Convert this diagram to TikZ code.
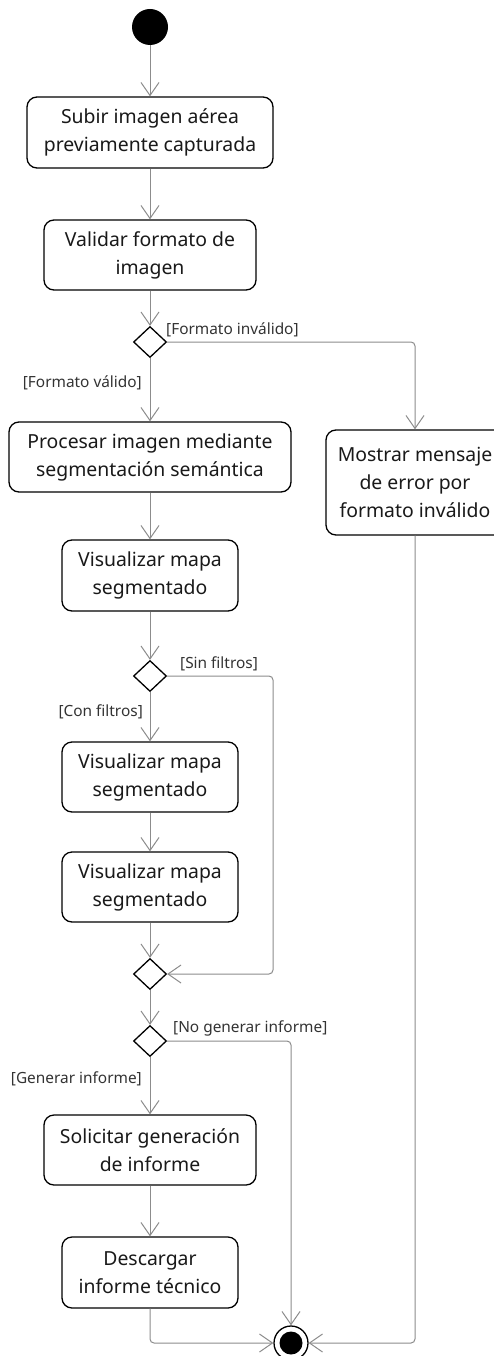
\documentclass[tikz,border=0pt]{standalone}
\usepackage{fontspec}
\setmainfont{Noto Sans}
\usetikzlibrary{shapes.geometric,arrows.meta}
\definecolor{linegray}{HTML}{8C8C8C}
\definecolor{labelgray}{HTML}{333333}
\tikzset{
  act/.style={draw=black,line width=1.3pt,rounded corners=10pt,inner sep=0pt,align=center,
    font=\fontsize{19.4}{28}\selectfont,text=black!90},
  dec/.style={draw=black,diamond,line width=1.3pt,minimum width=33pt,minimum height=31pt,inner sep=0pt},
  flow/.style={draw=linegray,line width=1pt,-{Straight Barb[length=13pt,width=18pt,line width=1pt]}},
  guard/.style={font=\fontsize{15.4}{18}\selectfont,text=labelgray,inner sep=0pt}
}
\begin{document}
\begin{tikzpicture}[x=1pt,y=-1pt]
\path[use as bounding box,clip] (0,0) rectangle (494,1356);
\fill[white] (0,0) rectangle (494,1356);
% initial
\node[circle,fill=black,minimum size=36pt,inner sep=0pt] (start) at (150,27) {};
% activities
\node[act,minimum width=246pt,minimum height=71pt] (b1) at (150,132.5) {Subir imagen aérea\\previamente capturada};
\node[act,minimum width=212pt,minimum height=70pt] (b2) at (150,255) {Validar formato de\\imagen};
\node[dec] (d1) at (150,342) {};
\node[act,minimum width=282pt,minimum height=70pt] (b3) at (150,457) {Procesar imagen mediante\\segmentación semántica};
\node[act,minimum width=178pt,minimum height=105pt] (err) at (415,482.5) {Mostrar mensaje\\de error por\\formato inválido};
\node[act,minimum width=176pt,minimum height=71pt] (b4) at (150,575.5) {Visualizar mapa\\segmentado};
\node[dec] (d2) at (150,676) {};
\node[act,minimum width=176pt,minimum height=70pt] (b5) at (150,777) {Visualizar mapa\\segmentado};
\node[act,minimum width=176pt,minimum height=70pt] (b6) at (150,887) {Visualizar mapa\\segmentado};
\node[dec] (d3) at (150,974) {};
\node[dec] (d4) at (150,1041) {};
\node[act,minimum width=212pt,minimum height=70pt] (b7) at (150,1150) {Solicitar generación\\de informe};
\node[act,minimum width=176pt,minimum height=71pt] (b8) at (150,1272.5) {Descargar\\informe técnico};
% final
\node[circle,draw=black,line width=1.3pt,fill=white,minimum size=34pt,inner sep=0pt] (fin) at (291,1343) {};
\fill[black] (fin.center) circle (11.5pt);
% helper coordinates
\coordinate (s1) at (273,676);
\coordinate (s2) at (273,974);
% guards
\node[guard,anchor=west] (g1) at (166,330) {[Formato inválido]};
\node[guard,anchor=east] (g2) at (142,383) {[Formato válido]};
\node[guard,anchor=west] (g3) at (180,664) {[Sin filtros]};
\node[guard,anchor=east] (g4) at (143,712) {[Con filtros]};
\node[guard,anchor=west] (g5) at (173,1028) {[No generar informe]};
\node[guard,anchor=east] (g6) at (142,1079) {[Generar informe]};
% flows
\draw[flow] (start) -- (b1);
\draw[flow] (b1) -- (b2);
\draw[flow] (b2) -- (d1);
\draw[flow] (d1) -- (b3);
\draw[flow,rounded corners=4pt] (d1.east) -| (err.north);
\draw[flow] (b3) -- (b4);
\draw[flow] (b4) -- (d2);
\draw[flow] (d2) -- (b5);
\draw[flow,rounded corners=4pt] (d2.east) -- (s1) -- (s2) -- (d3.east);
\draw[flow] (b5) -- (b6);
\draw[flow] (b6) -- (d3);
\draw[flow] (d3) -- (d4);
\draw[flow] (d4) -- (b7);
\draw[flow,rounded corners=4pt] (d4.east) -| (fin.north);
\draw[flow] (b7) -- (b8);
\draw[flow,rounded corners=4pt] (b8.south) |- (fin.west);
\draw[flow,rounded corners=4pt] (err.south) |- (fin.east);
\end{tikzpicture}
\end{document}
